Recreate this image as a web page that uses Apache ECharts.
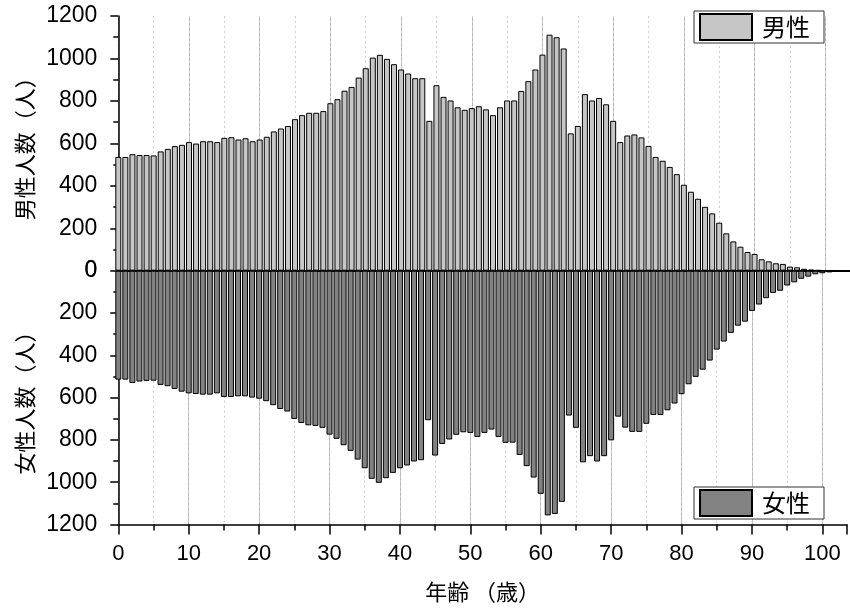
<!DOCTYPE html>
<html lang="ja">
<head>
    <meta charset="UTF-8">
    <title>人口ピラミッド</title>
    <style>
        html, body { margin: 0; padding: 0; background: #fff; }
        #chart { width: 850px; height: 609px; }
    </style>
    <script src="https://cdn.jsdelivr.net/npm/echarts@6/dist/echarts.min.js"></script>
</head>
<body>
    <div id="chart"></div>
    <script>
        // 年齢別人数 (0歳〜103歳)
        var male = [
            536, 536, 549, 545, 545, 543, 562, 574, 587, 593,
            606, 599, 610, 610, 606, 626, 629, 618, 624, 610,
            618, 631, 656, 670, 682, 714, 733, 744, 744, 752,
            789, 808, 848, 866, 910, 954, 1004, 1017, 998, 973,
            948, 929, 907, 907, 706, 874, 819, 802, 770, 758,
            766, 775, 760, 733, 770, 802, 802, 847, 893, 948,
            1018, 1112, 1100, 1047, 647, 682, 832, 802, 814, 784,
            706, 606, 637, 642, 628, 588, 536, 518, 489, 455,
            405, 372, 339, 301, 270, 226, 176, 138, 113, 88,
            79, 54, 44, 35, 32, 19, 16, 9, 5, 3,
            2, 2, 1, 1
        ];
        var female = [
            515, 515, 531, 524, 521, 520, 540, 546, 559, 572,
            580, 583, 586, 586, 580, 597, 597, 594, 594, 600,
            605, 617, 636, 654, 666, 701, 720, 731, 734, 743,
            775, 795, 825, 852, 893, 934, 984, 1003, 981, 956,
            934, 921, 902, 896, 707, 874, 819, 798, 776, 764,
            767, 786, 767, 751, 786, 814, 813, 871, 924, 978,
            1055, 1157, 1150, 1093, 685, 743, 906, 877, 902, 877,
            802, 690, 742, 762, 762, 724, 682, 682, 660, 628,
            584, 537, 502, 468, 425, 373, 335, 294, 260, 241,
            190, 160, 130, 105, 95, 70, 55, 38, 28, 17,
            12, 8, 5, 3
        ];
        var ages = male.map(function (v, i) { return i; });
        var ageTicks = [0, 10, 20, 30, 40, 50, 60, 70, 80, 90, 100];

        var numFont = "'Liberation Sans', Arial, sans-serif";
        var narrowFont = "'Liberation Sans Narrow', 'Arial Narrow', 'Liberation Sans', sans-serif";
        var jpFont = "'Noto Sans CJK JP', sans-serif";

        function pairs(values) {
            return values.map(function (v, i) { return [ages[i], v]; });
        }

        function yAxisOf(grid, name, inverse) {
            return {
                gridIndex: grid,
                type: 'value',
                min: 0,
                max: 1200,
                interval: 200,
                inverse: inverse,
                offset: 4,
                name: name,
                nameLocation: 'middle',
                nameGap: 63,
                nameTextStyle: { fontFamily: jpFont, fontSize: 22, color: '#000' },
                axisLine: { show: true, lineStyle: { color: '#000', width: 1.5 } },
                axisTick: { show: true, length: 8, lineStyle: { color: '#000', width: 1.5 } },
                minorTick: { show: true, splitNumber: 2, length: 5, lineStyle: { color: '#000', width: 1.5 } },
                axisLabel: {
                    fontFamily: numFont, fontSize: 23, color: '#000', margin: 17,
                    formatter: function (v) { return String(v); }
                },
                splitLine: { show: false }
            };
        }

        function xMajor(grid, bottomAxis) {
            return {
                gridIndex: grid,
                type: 'value',
                min: 0,
                max: 103.5,
                interval: 10,
                position: 'bottom',
                name: bottomAxis ? '年齢 （歳）' : '',
                nameLocation: 'middle',
                nameGap: 56,
                nameTextStyle: { fontFamily: jpFont, fontSize: 22, color: '#000' },
                axisLine: { show: true, onZero: false, lineStyle: { color: '#000', width: bottomAxis ? 1.5 : 2 } },
                axisTick: { show: bottomAxis, length: 10, lineStyle: { color: '#000', width: 1.5 } },
                axisLabel: {
                    show: bottomAxis,
                    fontFamily: narrowFont,
                    fontSize: 22,
                    color: '#000',
                    margin: 18,
                    formatter: function (v) { return ageTicks.indexOf(v) >= 0 ? String(v) : ''; }
                },
                splitLine: { show: true, showMaxLine: false, lineStyle: { color: '#b4b4b4', width: 1 } }
            };
        }

        function xMinor(grid, bottomAxis) {
            return {
                gridIndex: grid,
                type: 'value',
                min: 0,
                max: 103.5,
                interval: 5,
                position: 'bottom',
                axisLine: { show: false, onZero: false },
                axisTick: { show: bottomAxis, length: 6, lineStyle: { color: '#000', width: 1.5 } },
                axisLabel: { show: false },
                splitLine: { show: true, showMaxLine: false, lineStyle: { color: '#cfcfcf', width: 1, type: [2, 3] } }
            };
        }

        function legendOf(name, pos) {
            var l = {
                data: [{ name: name, icon: 'rect' }],
                right: 26,
                orient: 'horizontal',
                backgroundColor: '#fff',
                borderColor: '#333',
                borderWidth: 1,
                borderRadius: 0,
                padding: [2, 14, 2, 5],
                itemWidth: 52,
                itemHeight: 26,
                selectedMode: false,
                textStyle: { fontFamily: jpFont, fontSize: 24, color: '#000', padding: [0, 0, 0, 5] }
            };
            if (pos === 'top') l.top = 11; else l.bottom = 90;
            return l;
        }

        var chart = echarts.init(document.getElementById('chart'), null, { renderer: 'canvas' });
        chart.setOption({
            backgroundColor: '#fff',
            animation: false,
            legend: [legendOf('男性', 'top'), legendOf('女性', 'bottom')],
            grid: [
                { left: 118.3, right: 0, top: 16, height: 254.7 },
                { left: 118.3, right: 0, top: 270.7, height: 253.8 }
            ],
            xAxis: [xMajor(0, false), xMinor(0, false), xMajor(1, true), xMinor(1, true)],
            yAxis: [yAxisOf(0, '男性人数（人）', false), yAxisOf(1, '女性人数（人）', true)],
            series: [
                {
                    name: '男性',
                    type: 'bar',
                    xAxisIndex: 0,
                    yAxisIndex: 0,
                    barWidth: 6,
                    clip: false,
                    itemStyle: { color: '#c6c6c6', borderColor: '#000', borderWidth: 1 },
                    data: pairs(male)
                },
                {
                    name: '女性',
                    type: 'bar',
                    xAxisIndex: 2,
                    yAxisIndex: 1,
                    barWidth: 6,
                    clip: false,
                    itemStyle: { color: '#828282', borderColor: '#000', borderWidth: 1 },
                    data: pairs(female)
                }
            ]
        });
    </script>
</body>
</html>
